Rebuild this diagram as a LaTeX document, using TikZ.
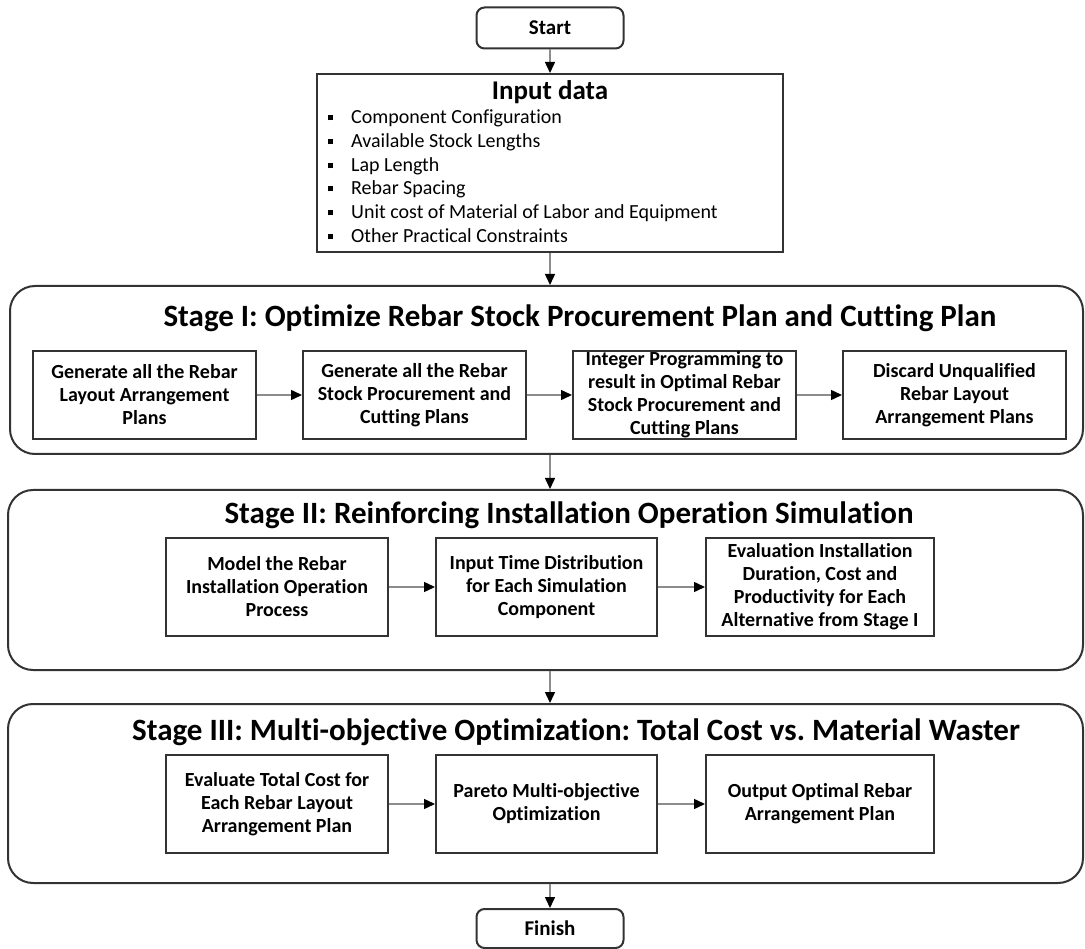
\documentclass[tikz,border=0pt]{standalone}
\usepackage{fontspec}
\setmainfont{Carlito}[Ligatures=NoCommon]
\usetikzlibrary{arrows.meta}
\frenchspacing

\tikzset{
  edge/.style={draw=black!80, line width=2pt},
  terminal/.style={edge, rounded corners=8pt, minimum width=147pt, minimum height=41pt,
    font=\bfseries\fontsize{21}{24}\selectfont, inner sep=0pt},
  stagebox/.style={edge, rounded corners=25pt, inner sep=0pt},
  stagetitle/.style={font=\bfseries\fontsize{31}{34}\selectfont, inner sep=0pt},
  procbox/.style={edge, align=center, inner sep=0pt, minimum height=88pt,
    font=\bfseries\fontsize{20}{23}\selectfont},
  listitem/.style={anchor=west, inner sep=0pt, text height=13pt, text depth=4pt,
    font=\fontsize{20}{23}\selectfont},
  flow/.style={draw=black!45, line width=1.5pt,
    -{Triangle[length=11pt,width=10pt,color=black]}},
}
\newcommand{\sqbullet}{\makebox[23pt][l]{\rule[3pt]{5pt}{5pt}}}

\begin{document}
\begin{tikzpicture}[x=1pt,y=-1pt]
\useasboundingbox (0,0) rectangle (1085,949);

% start and input
\node[terminal] (start) at (550,28) {Start};
\node[edge, minimum width=466pt, minimum height=178pt, inner sep=0pt] (input) at (550,163) {};
\node[font=\bfseries\fontsize{27}{30}\selectfont, inner sep=0pt] (intitle) at (550,92) {Input data};
\node[listitem] (in1) at (328,119) {\sqbullet Component Configuration};
\node[listitem] (in2) at (328,143) {\sqbullet Available Stock Lengths};
\node[listitem] (in3) at (328,167) {\sqbullet Lap Length};
\node[listitem] (in4) at (328,190) {\sqbullet Rebar Spacing};
\node[listitem] (in5) at (328,214) {\sqbullet Unit cost of Material of Labor and Equipment};
\node[listitem] (in6) at (328,238) {\sqbullet Other Practical Constraints};

% stage I
\node[stagebox, minimum width=1073pt, minimum height=168pt] (stage1) at (546.5,370) {};
\node[stagetitle] (t1) at (580,318) {Stage I: Optimize Rebar Stock Procurement Plan and Cutting Plan};
\node[procbox, minimum width=223pt] (s1a) at (144.5,395) {Generate all the Rebar\\Layout Arrangement\\Plans};
\node[procbox, minimum width=223pt] (s1b) at (414.5,395) {Generate all the Rebar\\Stock Procurement and\\Cutting Plans};
\node[procbox, minimum width=223pt] (s1c) at (684.5,395) {Integer Programming to\\result in Optimal Rebar\\Stock Procurement and\\Cutting Plans};
\node[procbox, minimum width=223pt] (s1d) at (954.5,395) {Discard Unqualified\\Rebar Layout\\Arrangement Plans};

% stage II
\node[stagebox, minimum width=1075pt, minimum height=180pt] (stage2) at (545.5,580) {};
\node[stagetitle] (t2) at (569,515) {Stage II: Reinforcing Installation Operation Simulation};
\node[procbox, minimum width=222pt, minimum height=98pt] (s2a) at (277,587) {Model the Rebar\\Installation Operation\\Process};
\node[procbox, minimum width=221pt, minimum height=98pt] (s2b) at (546.5,587) {Input Time Distribution\\for Each Simulation\\Component};
\node[procbox, minimum width=228pt, minimum height=98pt] (s2c) at (820,587) {Evaluation Installation\\Duration, Cost and\\Productivity for Each\\Alternative from Stage I};

% stage III
\node[stagebox, minimum width=1075pt, minimum height=179pt] (stage3) at (545.5,793.5) {};
\node[stagetitle] (t3) at (576,732) {Stage III: Multi-objective Optimization: Total Cost vs. Material Waster};
\node[procbox, minimum width=222pt, minimum height=98pt] (s3a) at (277,804) {Evaluate Total Cost for\\Each Rebar Layout\\Arrangement Plan};
\node[procbox, minimum width=221pt, minimum height=98pt] (s3b) at (546.5,804) {Pareto Multi-objective\\Optimization};
\node[procbox, minimum width=228pt, minimum height=98pt] (s3c) at (820,804) {Output Optimal Rebar\\Arrangement Plan};

\node[terminal, minimum height=39pt] (finish) at (550,928.5) {Finish};

% main flow
\draw[flow] (start.south) -- (input.north);
\draw[flow] (input.south) -- (input.south |- stage1.north);
\draw[flow] (input.south |- stage1.south) -- (input.south |- stage2.north);
\draw[flow] (input.south |- stage2.south) -- (input.south |- stage3.north);
\draw[flow] (finish.north |- stage3.south) -- (finish.north);

% flows inside the stages
\draw[flow] (s1a) -- (s1b);
\draw[flow] (s1b) -- (s1c);
\draw[flow] (s1c) -- (s1d);
\draw[flow] (s2a) -- (s2b);
\draw[flow] (s2b) -- (s2c);
\draw[flow] (s3a) -- (s3b);
\draw[flow] (s3b) -- (s3c);
\end{tikzpicture}
\end{document}
